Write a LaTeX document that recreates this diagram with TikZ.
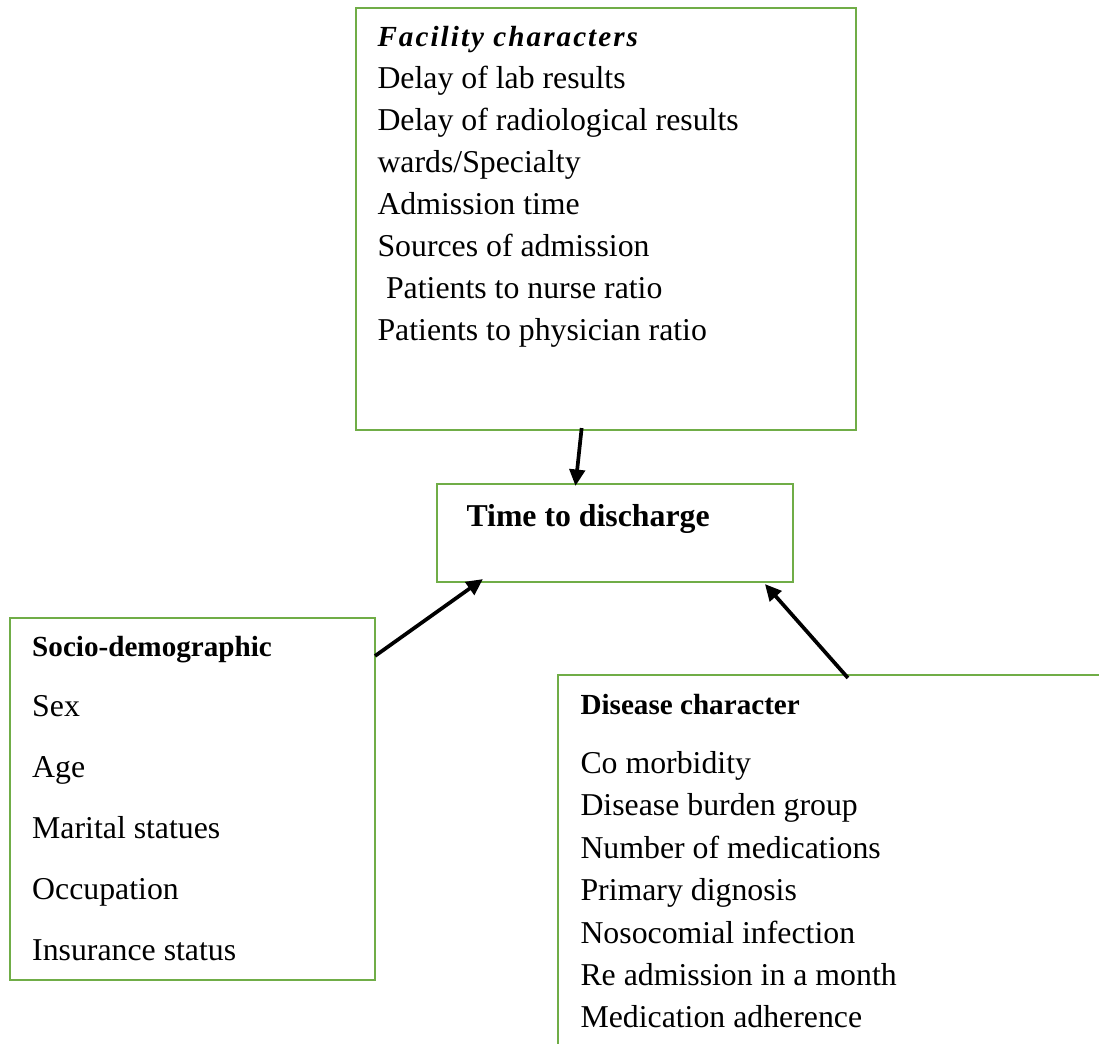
\documentclass[tikz,border=0pt]{standalone}
\usepackage{fontspec}
\setmainfont{Liberation Serif}
\usetikzlibrary{arrows.meta,fit,calc}
\definecolor{boxgreen}{HTML}{70AD47}
\begin{document}
\begin{tikzpicture}[x=0.3774pt,y=-0.3774pt,
  box/.style={draw=boxgreen, line width=0.8pt, inner sep=0pt, rectangle},
  txt/.style={anchor=base west, inner sep=0pt, font=\fontsize{12}{14}\selectfont},
  head/.style={anchor=base west, inner sep=0pt, font=\fontsize{11}{13}\selectfont\bfseries},
  conn/.style={line width=1.4pt, -{Triangle[length=6.2pt,width=5.8pt]}}]
\useasboundingbox (0,0) rectangle (1099,1044);
\begin{scope}
\clip (0,0) rectangle (1099,1044);
% boxes
\node[box, fit={(356,8) (856,430)}] (fac) {};
\node[box, fit={(437,484) (793,582)}] (time) {};
\node[box, fit={(10,618) (375,980)}] (socio) {};
\node[box, fit={(558,675) (1130,1070)}] (dis) {};
% facility
\node[anchor=base west, inner sep=0pt, font=\fontsize{11}{13}\selectfont\bfseries\itshape\addfontfeature{LetterSpace=7}] (f0) at (377,46.5) {Facility characters};
\node[txt] (f1) at (377,88) {Delay of lab results};
\node[txt] (f2) at (377,130) {Delay of radiological results};
\node[txt] (f3) at (377,172) {wards/Specialty};
\node[txt] (f4) at (377,214) {Admission time};
\node[txt] (f5) at (377,256) {Sources of admission};
\node[txt] (f6) at (385.5,298.5) {Patients to nurse ratio};
\node[txt] (f7) at (377,340.5) {Patients to physician ratio};
% time
\node[txt, font=\fontsize{12}{14}\selectfont\bfseries] (t0) at (466,526) {Time to discharge};
% socio
\node[head] (s0) at (31.7,656) {Socio-demographic};
\node[txt] (s1) at (31.7,716) {Sex};
\node[txt] (s2) at (31.7,777) {Age};
\node[txt] (s3) at (31.7,838) {Marital statues};
\node[txt] (s4) at (31.7,899) {Occupation};
\node[txt] (s5) at (31.7,960) {Insurance status};
% disease
\node[head] (d0) at (580,714) {Disease character};
\node[txt] (d1) at (580,773) {Co morbidity};
\node[txt] (d2) at (580,815) {Disease burden group};
\node[txt] (d3) at (580,858) {Number of medications};
\node[txt] (d4) at (580,900) {Primary dignosis};
\node[txt] (d5) at (580,943) {Nosocomial infection};
\node[txt] (d6) at (580,985) {Re admission in a month};
\node[txt] (d7) at (580,1027) {Medication adherence};
% connectors
\draw[conn] ($(fac.south west)!0.4515!(fac.south east)+(0,-3)$) -- ($(time.north west)!0.3896!(time.north east)+(0,3)$);
\draw[conn] ($(socio.north east)+(-1,39)$) -- ($(time.south west)+(47,-4)$);
\draw[conn] ($(dis.north west)+(291,4)$) -- ($(time.south west)+(329,1)$);
\end{scope}
\end{tikzpicture}
\end{document}
